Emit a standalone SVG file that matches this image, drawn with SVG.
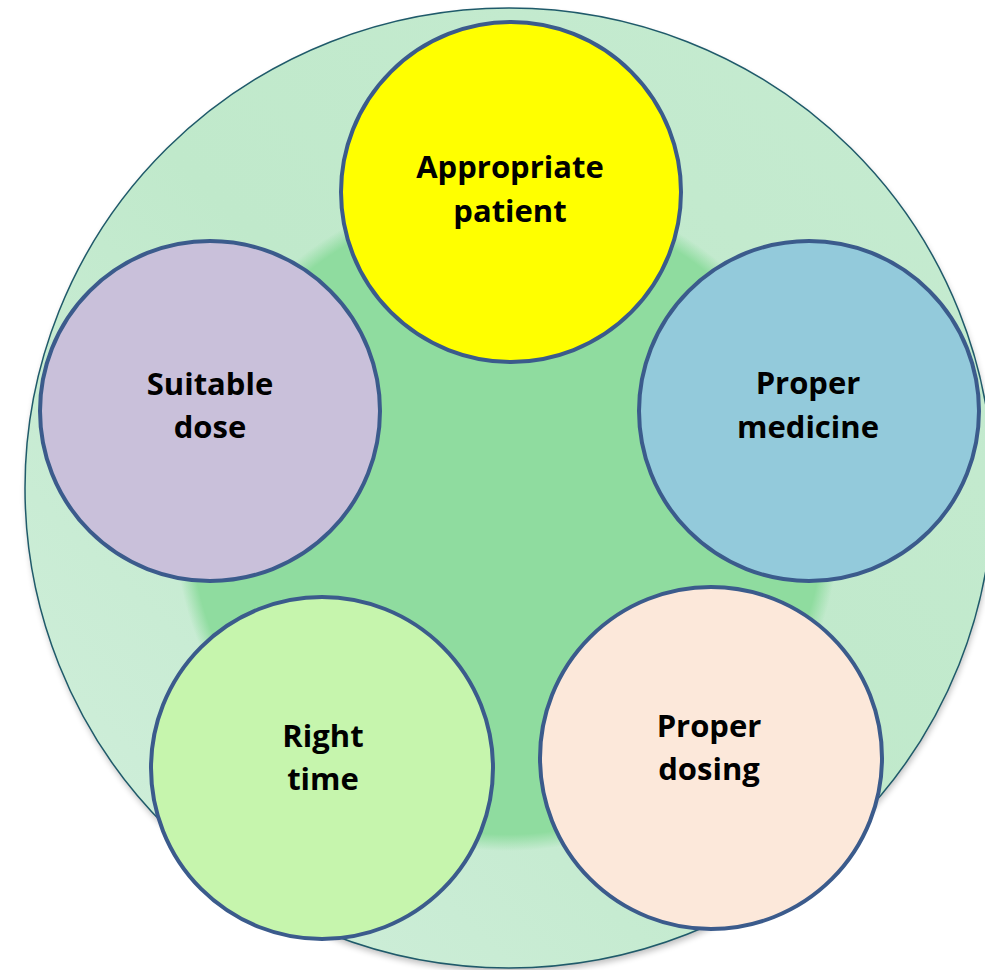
<svg xmlns="http://www.w3.org/2000/svg" width="985" height="970" viewBox="0 0 985 970">
  <defs>
    <linearGradient id="outerFill" x1="0" y1="1" x2="1" y2="0">
      <stop offset="0" stop-color="#d2efdd"/>
      <stop offset="0.5" stop-color="#c0e9cb"/>
      <stop offset="1" stop-color="#c6ebd1"/>
    </linearGradient>
    <radialGradient id="innerFill" cx="0.5" cy="0.5" r="0.5">
      <stop offset="0" stop-color="#8fdc9f"/>
      <stop offset="0.95" stop-color="#8fdc9f"/>
      <stop offset="1" stop-color="#8fdc9f" stop-opacity="0"/>
    </radialGradient>
    <filter id="shadow" x="-10%" y="-10%" width="120%" height="120%">
      <feGaussianBlur stdDeviation="3"/>
    </filter>
    <style>
      .node { stroke: #3b5b8c; stroke-width: 4; }
      .label { font-family: "Open Sans", "Liberation Sans", sans-serif; font-weight: bold; font-size: 31px; fill: #000; text-anchor: middle; }
    </style>
  </defs>

  <g id="background">
    <ellipse cx="510" cy="492" rx="484" ry="480" fill="#000" opacity="0.25" filter="url(#shadow)"/>
    <ellipse cx="509" cy="488" rx="484" ry="480" fill="url(#outerFill)" stroke="#1f5a6a" stroke-width="1.5"/>
    <circle cx="507" cy="518" r="333" fill="url(#innerFill)"/>
  </g>

  <g id="connectors"></g>

  <g id="node-appropriate-patient">
    <circle class="node" cx="511" cy="192" r="170" fill="#ffff00"/>
    <text class="label" x="510" y="178">Appropriate</text>
    <text class="label" x="510" y="222">patient</text>
  </g>

  <g id="node-suitable-dose">
    <circle class="node" cx="210" cy="411" r="170" fill="#c9c0da"/>
    <text class="label" x="210" y="395">Suitable</text>
    <text class="label" x="210" y="438">dose</text>
  </g>

  <g id="node-proper-medicine">
    <circle class="node" cx="809" cy="411" r="170" fill="#93cadb"/>
    <text class="label" x="808" y="394">Proper</text>
    <text class="label" x="808" y="438">medicine</text>
  </g>

  <g id="node-right-time">
    <circle class="node" cx="322" cy="768" r="171" fill="#c6f5ad"/>
    <text class="label" x="323" y="747">Right</text>
    <text class="label" x="323" y="790">time</text>
  </g>

  <g id="node-proper-dosing">
    <circle class="node" cx="711" cy="758" r="171" fill="#fce8da"/>
    <text class="label" x="709" y="737">Proper</text>
    <text class="label" x="709" y="780">dosing</text>
  </g>
</svg>
